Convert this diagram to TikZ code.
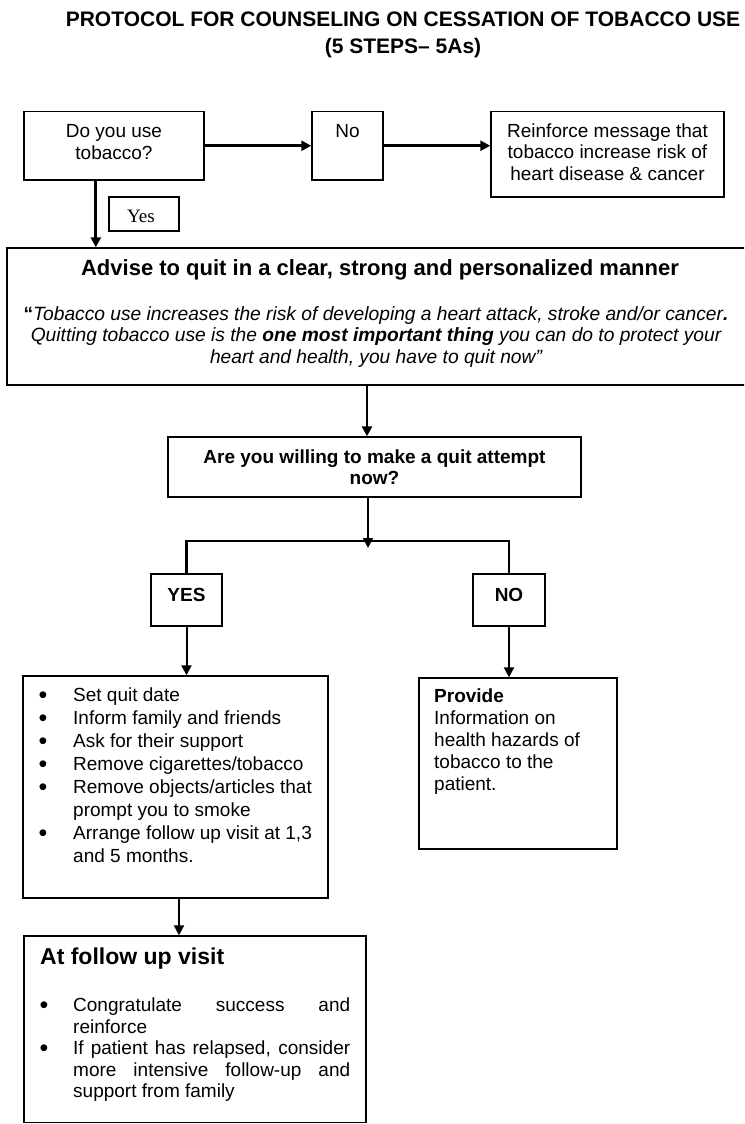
\documentclass[tikz,border=0pt]{standalone}
\usepackage{fontspec}
\setmainfont{Liberation Sans}
\newfontfamily\timesf{Liberation Serif}
\usetikzlibrary{arrows.meta,calc}
\newcommand{\fbody}{\fontsize{19}{21.5}\selectfont}
\newcommand{\bul}{\raisebox{-2.2pt}{\fontsize{25}{0}\selectfont •}}
\newcommand{\bx}[5]{\node[box, minimum width={(#4)-(#2)}, minimum height={(#5)-(#3)}] (#1) at ({((#2)+(#4))/2},{((#3)+(#5))/2}) {};}
\tikzset{
  box/.style={draw=black, line width=1.4pt, inner sep=0pt, rectangle},
  txt/.style={inner sep=0pt, anchor=base},
  ltxt/.style={inner sep=0pt, anchor=base west},
  conn/.style={line width=2.8pt, -{Triangle[length=10pt,width=10pt]}},
  connmid/.style={line width=2pt, -{Triangle[length=10pt,width=10pt]}},
  connthin/.style={line width=1.7pt, -{Triangle[length=10pt,width=10pt]}},
  plainline/.style={line width=2.8pt, line join=miter},
}
\begin{document}
\begin{tikzpicture}[x=1pt,y=-1pt]
\path[use as bounding box, clip] (0,0) rectangle (744,1124);
\fill[white] (0,0) rectangle (744,1124);

% title
\node[txt] (title) at (403,26.7) {\fontsize{21}{27.3}\selectfont\bfseries
  \begin{tabular}[t]{@{}c@{}}PROTOCOL FOR COUNSELING ON CESSATION OF TOBACCO USE\\(5 STEPS– 5As)\end{tabular}};

% boxes
\bx{q1}{24}{111.5}{204}{180}
\bx{no}{312}{111.5}{383}{180}
\bx{reinf}{491}{111.5}{724}{197}
\bx{yesl}{109}{197}{179}{231}
\bx{advise}{7}{248}{752}{385}
\bx{question}{168}{437}{581}{497}
\bx{yesb}{151}{574}{222}{626}
\bx{nob}{473}{574}{545}{626}
\bx{list}{23}{676}{328}{898}
\bx{provide}{419}{678}{617}{849}
\bx{follow}{24}{936}{366}{1122.5}

% texts
\node[txt] (q1t) at (114,137.5) {\fbody\begin{tabular}[t]{@{}c@{}}Do you use\\tobacco?\end{tabular}};
\node[txt] (not) at (347.5,137.5) {\fbody No};
\node[txt] (reinft) at (607.5,137.3) {\fbody\begin{tabular}[t]{@{}c@{}}Reinforce message that\\tobacco increase risk of\\heart disease \& cancer\end{tabular}};
\node[txt] (yest) at (141,222.7) {\timesf\fontsize{19}{21}\selectfont Yes};
\node[txt] (advt) at (380,275) {\fontsize{22}{26}\selectfont\bfseries Advise to quit in a clear, strong and personalized manner};
\node[txt] (quote) at (376,320) {\fontsize{19.2}{21.7}\selectfont\itshape\begin{tabular}[t]{@{}c@{}}{\upshape\bfseries “}Tobacco use increases the risk of developing a heart attack, stroke and/or cancer{\bfseries.}\\Quitting tobacco use is the {\bfseries one most important thing} you can do to protect your\\heart and health, you have to quit now”\end{tabular}};
\node[txt] (questt) at (374.5,463.3) {\fontsize{19}{21}\selectfont\bfseries\begin{tabular}[t]{@{}c@{}}Are you willing to make a quit attempt\\now?\end{tabular}};
\node[txt] (yestt) at (186.5,601.7) {\fbody\bfseries YES};
\node[txt] (notb) at (509,601.7) {\fbody\bfseries NO};
\node[ltxt] (listt) at (38.5,701.7) {\fontsize{19}{22.9}\selectfont\begin{tabular}[t]{@{}p{34.5pt}@{}l@{}}
\bul & Set quit date\\
\bul & Inform family and friends\\
\bul & Ask for their support\\
\bul & Remove cigarettes/tobacco\\
\bul & Remove objects/articles that\\
 & prompt you to smoke\\
\bul & Arrange follow up visit at 1,3\\
 & and 5 months.\end{tabular}};
\node[ltxt] (providet) at (434,702.7) {\fontsize{19}{22}\selectfont\begin{tabular}[t]{@{}l@{}}
{\bfseries Provide}\\Information on\\health hazards of\\tobacco to the\\patient.\end{tabular}};
\node[ltxt] (followh) at (40,964) {\fontsize{23}{26}\selectfont\bfseries At follow up visit};
\node[ltxt] (followt) at (39.5,1011.7) {\fontsize{19}{21.5}\selectfont\begin{tabular}[t]{@{}p{33.5pt}@{}l@{}}
\bul & \makebox[277pt][s]{Congratulate success and}\\
 & reinforce\\
\bul & \makebox[277pt][s]{If patient has relapsed, consider}\\
 & \makebox[277pt][s]{more intensive follow-up and}\\
 & support from family\end{tabular}};

% connectors
\coordinate (ya) at ($(q1.south west)!0.4!(q1.south east)$);
\draw[conn] (ya) -- (ya |- advise.north);
\draw[conn] (q1.east) -- (no.west);
\draw[conn] (no.east) -- (no.east -| reinf.west);
\coordinate (ax) at (367,0);
\draw[conn] (advise.south -| ax) -- (question.north -| ax);
\coordinate (bxp) at (368,548);
\draw[connthin] (question.south -| bxp) -- (bxp);
\coordinate (br) at (0,541);
\draw[plainline] (yesb.north) -- (yesb.north |- br) -- (nob.north |- br) -- (nob.north);
\draw[connmid] (yesb.south) -- (yesb.south |- list.north);
\draw[connmid] (nob.south) -- (nob.south |- provide.north);
\coordinate (fx) at (179,0);
\draw[connmid] (list.south -| fx) -- (follow.north -| fx);
\end{tikzpicture}
\end{document}
